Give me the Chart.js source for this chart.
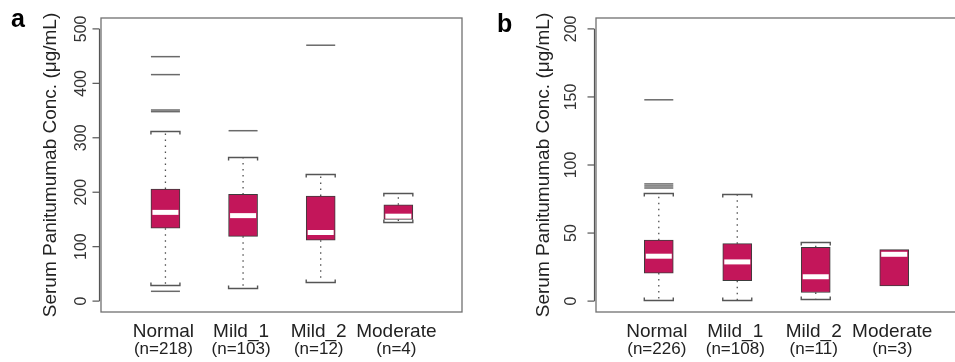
<!DOCTYPE html>
<html><head><meta charset="utf-8">
<script src="https://cdn.jsdelivr.net/npm/chart.js@4/dist/chart.umd.min.js"></script>
<style>
html,body{margin:0;padding:0;background:#fff;overflow:hidden;width:955px;height:362px;position:relative;}
#wa{position:absolute;left:0;top:0;width:480px;height:362px;}
#wb{position:absolute;left:480px;top:0;width:495px;height:362px;}
</style></head><body>
<div id="wa"><canvas id="ca"></canvas></div>
<div id="wb"><canvas id="cb"></canvas></div>
<script>
// ---- data ----
const categories = ['Normal', 'Mild_1', 'Mild_2', 'Moderate'];
const yTitle = 'Serum Panitumumab Conc. (\u03bcg/mL)';

const nA = [218, 103, 12, 4];
const lowA = [30, 24, 35, 146];
const q1A = [134, 119, 112, 150];
const medA = [163, 157, 126, 156];
const q3A = [206, 196, 193, 177];
const highA = [312, 265, 233, 199];
const outA = [[449, 416, 351, 348, 18], [313], [470], []];
const ticksA = [0, 100, 200, 300, 400, 500];

const nB = [226, 108, 11, 3];
const lowB = [0.7, 0.7, 1.7, null];
const q1B = [20.6, 15, 6.3, 11.2];
const medB = [33, 28.8, 17.9, 34.4];
const q3B = [44.8, 42.2, 39.5, 37.8];
const highB = [79.5, 79, 43.4, null];
const outB = [[147.9, 86.1, 84.6, 83.1], [], [], []];
const ticksB = [0, 50, 100, 150, 200];

const FONT = '"Liberation Sans", Arial, sans-serif';
const BOX_FILL = '#C3165A';
const BOX_W = 29;

function makePanel(id, p) {
  const xs = categories.map((c, i) => i + 1);
  const boxData = xs.map((x, i) => ({ x: x, y: [p.q1[i], p.q3[i]] }));
  const medData = xs.map((x, i) => ({ x: x, y: p.med[i] }));
  const outData = [];
  p.out.forEach((arr, i) => arr.forEach(v => outData.push({ x: i + 1, y: v })));

  const plugin = {
    id: 'rbox_' + id,
    beforeDatasetsDraw(chart) {
      const ctx = chart.ctx, xS = chart.scales.x, yS = chart.scales.y;
      ctx.save();
      xs.forEach((x, i) => {
        const px = xS.getPixelForValue(x);
        const hw = BOX_W / 2;
        // whiskers (dotted)
        ctx.strokeStyle = '#505050';
        ctx.lineWidth = 1.3;
        ctx.setLineDash([1.5, 4.5]);
        if (p.high[i] != null) {
          ctx.beginPath();
          ctx.moveTo(px, yS.getPixelForValue(p.q3[i]));
          ctx.lineTo(px, yS.getPixelForValue(p.high[i]));
          ctx.stroke();
        }
        if (p.low[i] != null) {
          ctx.beginPath();
          ctx.moveTo(px, yS.getPixelForValue(p.q1[i]));
          ctx.lineTo(px, yS.getPixelForValue(p.low[i]));
          ctx.stroke();
        }
        ctx.setLineDash([]);
        ctx.strokeStyle = '#555';
        ctx.lineWidth = 1.4;
        [[p.high[i], 1], [p.low[i], -1]].forEach(([v, dir]) => {
          if (v == null) return;
          const py = Math.round(yS.getPixelForValue(v)) + 0.5;
          ctx.beginPath();
          ctx.moveTo(px - hw, py + dir * 3);
          ctx.lineTo(px - hw, py);
          ctx.lineTo(px + hw, py);
          ctx.lineTo(px + hw, py + dir * 3);
          ctx.stroke();
        });
      });
      ctx.restore();
    },
    afterDraw(chart) {
      const ctx = chart.ctx, xS = chart.scales.x, yS = chart.scales.y;
      const a = chart.chartArea;
      ctx.save();
      // frame
      ctx.strokeStyle = '#707070';
      ctx.lineWidth = 1.3;
      ctx.strokeRect(a.left, a.top, a.right - a.left, a.bottom - a.top);
      // y axis
      const axX = a.left - 1.5;
      ctx.strokeStyle = '#555';
      ctx.lineWidth = 1.2;
      ctx.beginPath();
      ctx.moveTo(axX, yS.getPixelForValue(p.ticks[0]));
      ctx.lineTo(axX, yS.getPixelForValue(p.ticks[p.ticks.length - 1]));
      ctx.stroke();
      ctx.fillStyle = '#333';
      ctx.font = '16px ' + FONT;
      ctx.textAlign = 'center';
      ctx.textBaseline = 'middle';
      p.ticks.forEach(t => {
        const py = yS.getPixelForValue(t);
        ctx.beginPath();
        ctx.moveTo(axX, py);
        ctx.lineTo(axX - 7, py);
        ctx.stroke();
        ctx.save();
        ctx.translate(p.tickLabelX, py);
        ctx.rotate(-Math.PI / 2);
        ctx.fillText(String(t), 0, 0);
        ctx.restore();
      });
      // y title
      ctx.save();
      ctx.fillStyle = '#222';
      ctx.font = '19px ' + FONT;
      ctx.translate(p.titleX, (a.top + a.bottom) / 2);
      ctx.rotate(-Math.PI / 2);
      ctx.fillText(yTitle, 0, 0);
      ctx.restore();
      // x labels
      ctx.fillStyle = '#222';
      ctx.textBaseline = 'alphabetic';
      xs.forEach((x, i) => {
        const px = xS.getPixelForValue(x) - 2;
        ctx.font = '19px ' + FONT;
        ctx.fillText(categories[i], px, 337);
        ctx.font = '17px ' + FONT;
        ctx.fillText('(n=' + p.n[i] + ')', px, 354);
      });
      // panel letter
      ctx.fillStyle = '#000';
      ctx.font = 'bold 25px ' + FONT;
      ctx.textAlign = 'left';
      ctx.fillText(p.letter, p.letterX, p.letterY);
      ctx.restore();
    }
  };

  return new Chart(document.getElementById(id), {
    type: 'bar',
    data: {
      datasets: [
        {
          type: 'scatter', data: medData, order: 0,
          pointStyle: 'line', pointRadius: 13, pointHoverRadius: 13,
          borderColor: '#ffffff', borderWidth: 5, pointBorderWidth: 5
        },
        {
          type: 'bar', data: boxData, order: 1,
          backgroundColor: BOX_FILL, borderColor: '#3c3c3c', borderWidth: 1,
          borderSkipped: false, barThickness: BOX_W
        },
        {
          type: 'scatter', data: outData, order: 2,
          pointStyle: 'line', pointRadius: 14.5, pointHoverRadius: 14.5,
          borderColor: '#6a6a6a', borderWidth: 1.5, pointBorderWidth: 1.5
        }
      ]
    },
    options: {
      responsive: true, maintainAspectRatio: false, animation: false,
      devicePixelRatio: 1,
      layout: { padding: p.padding },
      plugins: { legend: { display: false }, tooltip: { enabled: false } },
      scales: {
        x: { type: 'linear', min: p.xmin, max: p.xmax, display: false, offset: false },
        y: { type: 'linear', min: p.ymin, max: p.ymax, display: false }
      }
    },
    plugins: [plugin]
  });
}

makePanel('ca', {
  n: nA, low: lowA, q1: q1A, med: medA, q3: q3A, high: highA, out: outA, ticks: ticksA,
  ymin: -20, ymax: 520, xmin: 0.17, xmax: 4.82,
  padding: { left: 101, right: 10, top: 14, bottom: 50 },
  tickLabelX: 81.5, titleX: 51, letter: 'a', letterX: 11, letterY: 27
});
makePanel('cb', {
  n: nB, low: lowB, q1: q1B, med: medB, q3: q3B, high: highB, out: outB, ticks: ticksB,
  ymin: -8, ymax: 208, xmin: 0.2, xmax: 4.8,
  padding: { left: 116, right: 10, top: 14, bottom: 50 },
  tickLabelX: 91.7, titleX: 63.5, letter: 'b', letterX: 17, letterY: 32
});
</script>
</body></html>
